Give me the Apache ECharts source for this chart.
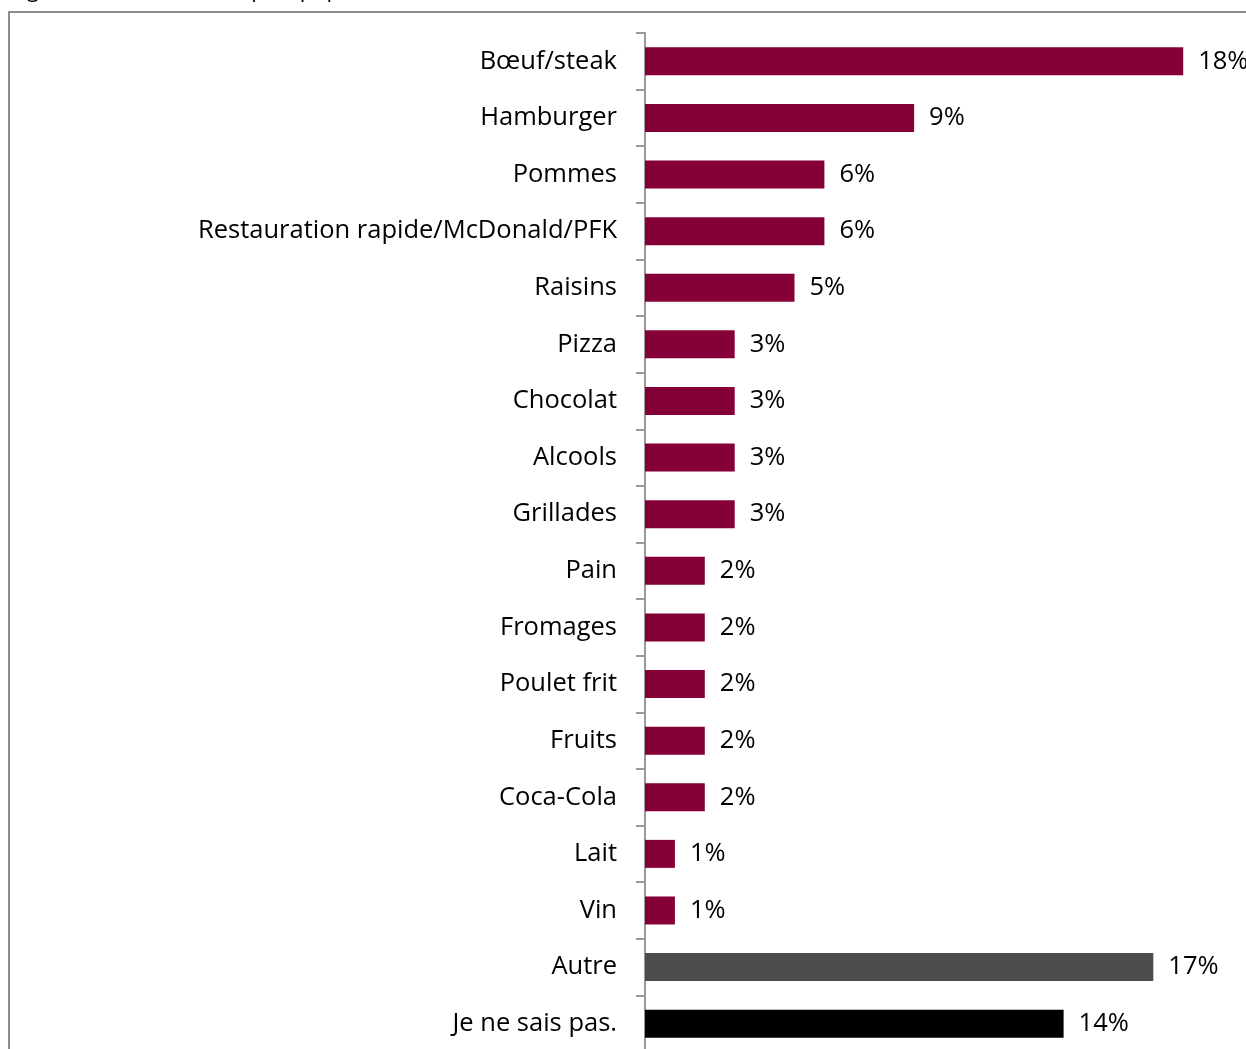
<!DOCTYPE html>
<html>
<head>
<meta charset="utf-8">
<script src="https://cdn.jsdelivr.net/npm/echarts@6/dist/echarts.min.js"></script>
<style>
  html, body { margin: 0; padding: 0; overflow: hidden; background: #fff; }
  #main { width: 1246px; height: 1052px; }
</style>
</head>
<body>
<div id="main"></div>
<script>
  // catégories de haut en bas
  const categories = ['Bœuf/steak', 'Hamburger', 'Pommes', 'Restauration rapide/McDonald/PFK', 'Raisins',
    'Pizza', 'Chocolat', 'Alcools', 'Grillades', 'Pain', 'Fromages', 'Poulet frit', 'Fruits',
    'Coca-Cola', 'Lait', 'Vin', 'Autre', 'Je ne sais pas.']
  const values = [18, 9, 6, 6, 5, 3, 3, 3, 3, 2, 2, 2, 2, 2, 1, 1, 17, 14]
  const barColors = ['#850036', '#850036', '#850036', '#850036', '#850036', '#850036', '#850036',
    '#850036', '#850036', '#850036', '#850036', '#850036', '#850036', '#850036', '#850036',
    '#850036', '#4d4d4d', '#000000']

  const font = '"Open Sans", "Noto Sans", sans-serif'
  const myChart = echarts.init(document.getElementById('main'))

  myChart.setOption({
    animation: false,
    graphic: [
      // cadre gris autour du graphique
      { type: 'rect', shape: { x: 9, y: 12, width: 1400, height: 1200 },
        style: { fill: 'none', stroke: '#8c8c8c', lineWidth: 2 } },
      // titre coupé en haut de l'image
      { type: 'text', left: 10, top: -20,
        style: { text: 'Figure 12 : Aliments les plus populaires', font: '22px ' + font, fill: '#000' } }
    ],
    grid: { left: 645, right: 0, top: 33, bottom: 0, containLabel: false },
    xAxis: {
      type: 'value', min: 0, max: 20.1, show: false
    },
    yAxis: {
      type: 'category',
      data: categories,
      inverse: true,
      axisLine: { show: true, lineStyle: { color: '#999', width: 2 } },
      axisTick: { show: true, length: 9, lineStyle: { color: '#999', width: 2 } },
      axisLabel: { color: '#000', fontSize: 25.5, fontFamily: font, margin: 28, padding: [2, 0, 0, 0] }
    },
    series: [{
      type: 'bar',
      data: values.map((v, i) => ({ value: v, itemStyle: { color: barColors[i] } })),
      barWidth: 28,
      label: {
        show: true, position: 'right', distance: 15, padding: [3, 0, 0, 0],
        formatter: '{c}%', color: '#000', fontSize: 25.5, fontFamily: font
      }
    }]
  })
</script>
</body>
</html>
